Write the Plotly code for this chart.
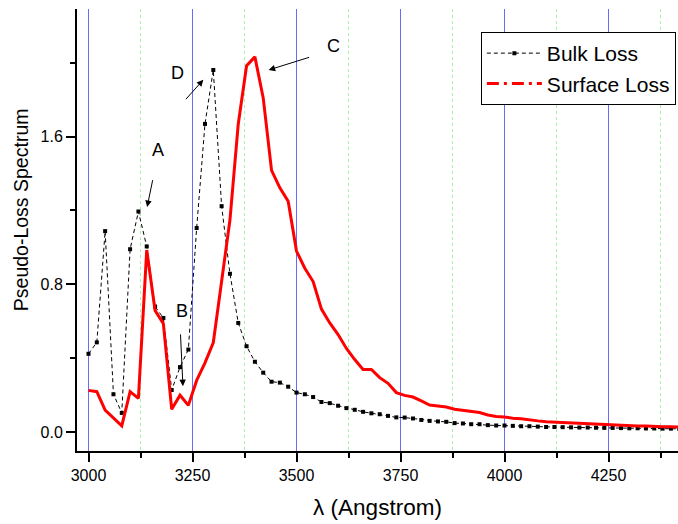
import plotly.graph_objects as go

wavelength = [3000, 3020, 3040, 3060, 3080, 3100, 3120, 3140, 3160, 3180,
              3200, 3220, 3240, 3260, 3280, 3300, 3320, 3340, 3360, 3380,
              3400, 3420, 3440, 3460, 3480, 3500, 3520, 3540, 3560, 3580,
              3600, 3620, 3640, 3660, 3680, 3700, 3720, 3740, 3760, 3780,
              3800, 3820, 3840, 3860, 3880, 3900, 3920, 3940, 3960, 3980,
              4000, 4020, 4040, 4060, 4080, 4100, 4120, 4140, 4160, 4180,
              4200, 4220, 4240, 4260, 4280, 4300, 4320, 4340, 4360, 4380,
              4400, 4420]

bulk_loss = [0.424, 0.486, 1.088, 0.205, 0.104, 0.99, 1.194, 1.005, 0.68, 0.618,
             0.228, 0.352, 0.447, 1.105, 1.668, 1.96, 1.223, 0.857, 0.591, 0.465,
             0.381, 0.322, 0.273, 0.268, 0.246, 0.214, 0.205, 0.19, 0.163, 0.157,
             0.143, 0.13, 0.121, 0.11, 0.102, 0.097, 0.088, 0.080, 0.079, 0.074,
             0.066, 0.061, 0.058, 0.056, 0.049, 0.047, 0.043, 0.043, 0.038, 0.036,
             0.036, 0.034, 0.032, 0.032, 0.030, 0.028, 0.028, 0.027, 0.026, 0.025,
             0.025, 0.024, 0.023, 0.023, 0.022, 0.021, 0.021, 0.020, 0.020, 0.019,
             0.019, 0.018]

surface_loss = [0.226, 0.219, 0.119, 0.075, 0.034, 0.219, 0.183, 0.986, 0.659, 0.587,
                0.124, 0.200, 0.145, 0.280, 0.375, 0.485, 0.82, 1.148, 1.668, 1.983,
                2.031, 1.809, 1.417, 1.322, 1.25, 0.98, 0.887, 0.815, 0.666, 0.591,
                0.528, 0.453, 0.393, 0.339, 0.339, 0.295, 0.264, 0.214, 0.199, 0.19,
                0.169, 0.147, 0.142, 0.136, 0.124, 0.119, 0.111, 0.106, 0.093, 0.085,
                0.082, 0.075, 0.073, 0.065, 0.061, 0.056, 0.054, 0.050, 0.048, 0.045,
                0.045, 0.042, 0.040, 0.040, 0.036, 0.032, 0.033, 0.033, 0.029, 0.029,
                0.029, 0.027]

x_ticks = [3000, 3250, 3500, 3750, 4000, 4250]
x_minor_ticks = [3125, 3375, 3625, 3875, 4125, 4375]
y_ticks = [0.0, 0.8, 1.6]
y_minor_ticks = [0.4, 1.2, 2.0]

# annotation labels: (text, text_x, text_y, tail_x, tail_y, head_x, head_y)
labels = [
    ("A", 3168, 1.525, 3155, 1.372, 3141, 1.219),
    ("B", 3224, 0.657, 3221, 0.537, 3227, 0.249),
    ("C", 3589, 2.09, 3534, 2.031, 3433, 1.96),
    ("D", 3214, 1.945, 3231, 1.794, 3276, 1.907),
]

FONT = "Liberation Sans, Arial, sans-serif"

fig = go.Figure()

fig.add_trace(go.Scatter(
    x=wavelength, y=bulk_loss, mode="lines+markers", name="Bulk Loss",
    line=dict(color="black", width=1, dash="4px,3px"),
    marker=dict(symbol="square", size=4, color="black"),
))
fig.add_trace(go.Scatter(
    x=wavelength, y=surface_loss, mode="lines", name="Surface Loss",
    line=dict(color="#ff0000", width=3), showlegend=False,
))
# legend-only entry reproducing the dash-dot legend key
fig.add_trace(go.Scatter(
    x=[None], y=[None], mode="lines", name="Surface Loss",
    line=dict(color="#ff0000", width=3, dash="12px,5px,3px,5px"),
))

for text, tx, ty, ax_, ay_, hx, hy in labels:
    fig.add_annotation(x=tx, y=ty, text=text, showarrow=False,
                       font=dict(family=FONT, size=18, color="black"))
    fig.add_annotation(x=hx, y=hy, ax=ax_, ay=ay_, xref="x", yref="y",
                       axref="x", ayref="y", text="", showarrow=True,
                       arrowhead=2, arrowsize=1.3, arrowwidth=1, arrowcolor="black")

# y-axis title (placed off-centre, as in the original)
fig.add_annotation(x=-0.093, y=0.545, xref="paper", yref="paper",
                   text="Pseudo-Loss Spectrum", textangle=-90, showarrow=False,
                   xanchor="center", yanchor="middle",
                   font=dict(family=FONT, size=19.5, color="black"))

fig.update_layout(
    width=678, height=524,
    margin=dict(l=77, r=0, t=9, b=73),
    paper_bgcolor="white", plot_bgcolor="white",
    font=dict(family=FONT, color="black"),
    legend=dict(x=0.672, y=0.948, xanchor="left", yanchor="top",
                bordercolor="black", borderwidth=1, bgcolor="white",
                font=dict(family=FONT, size=21, color="black"),
                itemwidth=55, tracegroupgap=0),
    xaxis=dict(
        range=[2972.356, 4417.067], tickvals=x_ticks, ticktext=[str(v) for v in x_ticks],
        ticks="outside", ticklen=9, tickwidth=1.5, tickcolor="black",
        showline=True, linecolor="black", linewidth=2,
        showgrid=True, gridcolor="rgb(105,105,255)", gridwidth=1,
        zeroline=False,
        minor=dict(tickvals=x_minor_ticks, ticks="outside", ticklen=5, tickwidth=1.5,
                   tickcolor="black", showgrid=True, gridcolor="#a8eea8",
                   griddash="dot", gridwidth=1),
        tickfont=dict(family=FONT, size=16, color="black"),
        title=dict(text="λ (Angstrom)", font=dict(family=FONT, size=22.5, color="black"),
                   standoff=16),
    ),
    yaxis=dict(
        range=[-0.102, 2.29], tickvals=y_ticks, ticktext=["%.1f" % v for v in y_ticks],
        ticks="outside", ticklen=9, tickwidth=1.5, tickcolor="black",
        showline=True, linecolor="black", linewidth=2,
        showgrid=False, zeroline=False,
        minor=dict(tickvals=y_minor_ticks, ticks="outside", ticklen=5, tickwidth=1.5,
                   tickcolor="black", showgrid=False),
        tickfont=dict(family=FONT, size=16, color="black"),
    ),
)

fig.write_html("out.html")
